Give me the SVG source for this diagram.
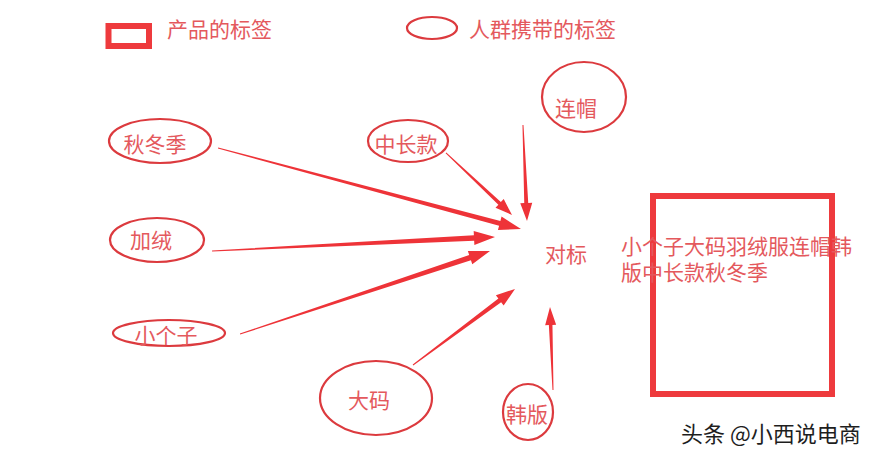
<svg xmlns="http://www.w3.org/2000/svg" width="878" height="459" viewBox="0 0 878 459">
<style>
.lbl{font-family:"Noto Sans CJK SC","Noto Sans",sans-serif;font-size:21px;fill:#e4595d;}
.big{font-family:"Noto Sans CJK SC","Noto Sans",sans-serif;font-size:21px;fill:#e4595d;}
.ell{fill:none;stroke:#dc3a3e;stroke-width:2.2;}
.box{fill:none;stroke:#ee3a3d;stroke-width:6;}
.arr{fill:#ee3338;}
.wm{font-family:"Noto Sans CJK SC","Noto Sans",sans-serif;font-size:22px;fill:#1e1e1e;stroke:#fff;stroke-width:3;paint-order:stroke;}
</style>
<rect width="878" height="459" fill="#fff"/>
<g id="legend">
<rect class="box" x="108.5" y="26" width="40.5" height="20"/>
<text class="lbl" x="167" y="37">产品的标签</text>
<ellipse class="ell" cx="432" cy="28" rx="25" ry="11"/>
<text class="lbl" x="469" y="37">人群携带的标签</text>
</g>
<g id="node-qiudongji">
<ellipse class="ell" cx="160" cy="141" rx="51" ry="22"/>
<text class="lbl" x="155" y="152" text-anchor="middle">秋冬季</text>
</g>
<g id="node-zhongchangkuan">
<ellipse class="ell" cx="408" cy="141" rx="40" ry="21"/>
<text class="lbl" x="406" y="152" text-anchor="middle">中长款</text>
</g>
<g id="node-lianmao">
<ellipse class="ell" cx="584" cy="97" rx="42" ry="35"/>
<text class="lbl" x="576" y="116" text-anchor="middle">连帽</text>
</g>
<g id="node-jiarong">
<ellipse class="ell" cx="157" cy="240" rx="47" ry="22"/>
<text class="lbl" x="151" y="248" text-anchor="middle">加绒</text>
</g>
<g id="node-xiaogezi">
<ellipse class="ell" cx="169" cy="333" rx="56" ry="13"/>
<text class="lbl" x="166" y="343" text-anchor="middle">小个子</text>
</g>
<g id="node-dama">
<ellipse class="ell" cx="376" cy="398" rx="56" ry="37"/>
<text class="lbl" x="369" y="408" text-anchor="middle">大码</text>
</g>
<g id="node-hanban">
<ellipse class="ell" cx="528" cy="412" rx="25" ry="28"/>
<text class="lbl" x="527" y="422" text-anchor="middle">韩版</text>
</g>
<g id="node-duibiao">
<text class="lbl" x="566" y="262" text-anchor="middle">对标</text>
</g>
<g id="node-product">
<rect class="box" x="653" y="196" width="179" height="198"/>
<text class="big"><tspan x="621" y="254">小个子大码羽绒服连帽韩</tspan><tspan x="621" y="280">版中长款秋冬季</tspan></text>
</g>
<g id="connectors">
<path class="arr" transform="translate(521,229) rotate(14.97)" d="M-313.6,-0.5 L-22,-2.5 L-22,-7 L0,0 L-22,7 L-22,2.5 L-313.6,0.5 Z"/>
<path class="arr" transform="translate(512,215) rotate(43.2)" d="M-90.6,-0.5 L-17,-1.8 L-17,-6 L0,0 L-17,6 L-17,1.8 L-90.6,0.5 Z"/>
<path class="arr" transform="translate(527,221) rotate(87.6)" d="M-96.1,-0.5 L-18,-2 L-18,-6 L0,0 L-18,6 L-18,2 L-96.1,0.5 Z"/>
<path class="arr" transform="translate(495,237) rotate(-2.83)" d="M-283.3,-0.5 L-21,-2.8 L-21,-7 L0,0 L-21,7 L-21,2.8 L-283.3,0.5 Z"/>
<path class="arr" transform="translate(490,251) rotate(-18.37)" d="M-263.4,-0.5 L-21,-2.8 L-21,-7 L0,0 L-21,7 L-21,2.8 L-263.4,0.5 Z"/>
<path class="arr" transform="translate(515,289) rotate(-36.69)" d="M-127.2,-0.5 L-19,-2.3 L-19,-6.5 L0,0 L-19,6.5 L-19,2.3 L-127.2,0.5 Z"/>
<path class="arr" transform="translate(550,307) rotate(-92.07)" d="M-83,-0.5 L-18,-1.8 L-18,-5.5 L0,0 L-18,5.5 L-18,1.8 L-83,0.5 Z"/>
</g>
<text class="wm" x="681" y="442">头条 @小西说电商</text>
</svg>
